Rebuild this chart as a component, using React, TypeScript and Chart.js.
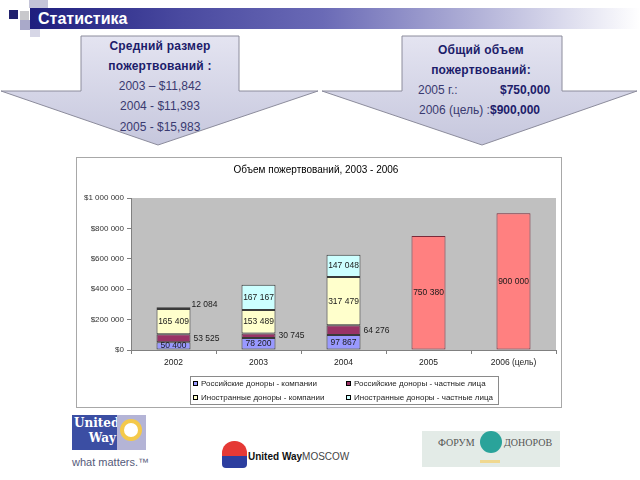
import React, { useEffect, useRef } from "react";
import { Chart, registerables } from "chart.js";

Chart.register(...registerables);

// ---------- data ----------
const categories = ["2002", "2003", "2004", "2005", "2006 (цель)"];
const seriesNames = [
  "Российские доноры - компании",
  "Российские доноры - частные лица",
  "Иностранные доноры - компании",
  "Иностранные доноры - частные лица",
];
const ruCompanies = [50400, 78200, 97867, null, null];
const ruIndividuals = [53525, 30745, 64276, null, null];
const foreignCompanies = [165409, 153489, 317479, null, null];
const foreignIndividuals = [12084, 167167, 147048, null, null];
const totals = [null, null, null, 750380, 900000];
const yMin = 0;
const yMax = 1000000;
const yStep = 200000;
const chartTitle = "Объем пожертвований, 2003 - 2006";
const slideTitle = "Статистика";
const leftArrowBold = ["Средний размер", "пожертвований :"];
const leftArrowLines = ["2003 – $11,842", "2004 - $11,393", "2005 - $15,983"];
const rightArrowBold = ["Общий объем", "пожертвований:"];

const FONT = "'Liberation Sans', Arial, sans-serif";
const fmt = (v: number) => String(v).replace(/\B(?=(\d{3})+(?!\d))/g, " ");

const seriesColors = ["#9999ff", "#993366", "#ffffcc", "#ccffff"];
const totalColor = "#ff8080";

const framePlugin = {
  id: "frame",
  beforeDraw(chart: any) {
    const { ctx, width, height, chartArea } = chart;
    ctx.save();
    ctx.fillStyle = "#ffffff";
    ctx.fillRect(0, 0, width, height);
    ctx.strokeStyle = "#a8a8a8";
    ctx.lineWidth = 1;
    ctx.strokeRect(0.5, 0.5, width - 1, height - 1);
    ctx.fillStyle = "#c0c0c0";
    ctx.fillRect(
      chartArea.left,
      chartArea.top,
      chartArea.right - chartArea.left,
      chartArea.bottom - chartArea.top
    );
    ctx.restore();
  },
};

const labelPlugin = {
  id: "valueLabels",
  afterDatasetsDraw(chart: any) {
    const ctx = chart.ctx;
    ctx.save();
    ctx.font = `8.5px ${FONT}`;
    ctx.fillStyle = "#1a1a1a";
    ctx.textBaseline = "middle";
    chart.data.datasets.forEach((ds: any, i: number) => {
      const meta = chart.getDatasetMeta(i);
      meta.data.forEach((el: any, j: number) => {
        const v = ds.data[j];
        if (v == null) return;
        const { x, y, base, width } = el.getProps(["x", "y", "base", "width"], true);
        const h = Math.abs(base - y);
        const text = fmt(v);
        if (ds.labelSide === "right") {
          ctx.textAlign = "left";
          ctx.fillText(text, x + width / 2 + 3, (y + base) / 2);
        } else if (h < 6) {
          ctx.textAlign = "left";
          ctx.fillText(text, x + width / 2 + 1, y - 3);
        } else {
          ctx.textAlign = "center";
          ctx.fillText(text, x, (y + base) / 2);
        }
      });
    });
    ctx.restore();
  },
};

const legendPlugin = {
  id: "boxLegend",
  afterDraw(chart: any) {
    const ctx = chart.ctx;
    const bx = 114, by = 219, bw = 308, bh = 28;
    ctx.save();
    ctx.fillStyle = "#ffffff";
    ctx.fillRect(bx, by, bw, bh);
    ctx.strokeStyle = "#8a8a8a";
    ctx.lineWidth = 1;
    ctx.strokeRect(bx + 0.5, by + 0.5, bw, bh);
    ctx.font = `8px ${FONT}`;
    ctx.textBaseline = "middle";
    ctx.textAlign = "left";
    chart.data.datasets.forEach((ds: any, i: number) => {
      if (!ds.inLegend) return;
      const col = i % 2;
      const row = Math.floor(i / 2);
      const mx = col === 0 ? 117 : 270;
      const cy = row === 0 ? 226.5 : 240.5;
      ctx.fillStyle = ds.backgroundColor;
      ctx.fillRect(mx, cy - 2.5, 5, 5);
      ctx.strokeStyle = "#000";
      ctx.strokeRect(mx + 0.5, cy - 2.5 + 0.5, 4, 4);
      ctx.fillStyle = "#222";
      ctx.fillText(ds.label, mx + 8, cy);
    });
    ctx.restore();
  },
};

function DonationsChart() {
  const ref = useRef<HTMLCanvasElement | null>(null);
  useEffect(() => {
    if (!ref.current) return;
    const series = [ruCompanies, ruIndividuals, foreignCompanies, foreignIndividuals];
    const datasets: any[] = series.map((data, i) => ({
      label: seriesNames[i],
      data,
      backgroundColor: seriesColors[i],
      borderColor: "#3a3a3a",
      borderWidth: 1,
      borderSkipped: false,
      stack: "s",
      barPercentage: 1,
      categoryPercentage: 0.4,
      inLegend: true,
      labelSide: i === 1 ? "right" : "inside",
    }));
    datasets.push({
      label: "Итого",
      data: totals,
      backgroundColor: totalColor,
      borderColor: "#7a2a3a",
      borderWidth: 1,
      borderSkipped: false,
      stack: "s",
      barPercentage: 1,
      categoryPercentage: 0.4,
      inLegend: false,
      labelSide: "inside",
    });
    const chart = new Chart(ref.current, {
      type: "bar",
      data: { labels: categories, datasets },
      options: {
        responsive: false,
        animation: false,
        devicePixelRatio: 1,
        layout: { padding: { left: 0, right: 6, top: 0, bottom: 0 } },
        plugins: {
          legend: { display: false },
          tooltip: { enabled: false },
          title: {
            display: true,
            text: chartTitle,
            color: "#000",
            font: { family: FONT, size: 10, weight: "normal" },
            padding: { top: 7, bottom: 22 },
          },
        },
        scales: {
          x: {
            stacked: true,
            grid: { offset: true, drawOnChartArea: false, tickLength: 4, color: "#808080" },
            border: { color: "#808080" },
            ticks: {
              color: "#222",
              font: { family: FONT, size: 8.5 },
              padding: 4,
              maxRotation: 0,
              autoSkip: false,
            },
            afterFit: (s: any) => {
              s.height = 58;
            },
          },
          y: {
            stacked: true,
            min: yMin,
            max: yMax,
            grid: { drawOnChartArea: false, tickLength: 4, color: "#808080" },
            border: { color: "#808080" },
            ticks: {
              stepSize: yStep,
              color: "#333",
              font: { family: FONT, size: 8 },
              padding: 3,
              callback: (v: any) => "$" + fmt(Number(v)),
            },
            afterFit: (s: any) => {
              s.width = 55;
            },
          },
        },
      } as any,
      plugins: [framePlugin, labelPlugin, legendPlugin],
    });
    return () => chart.destroy();
  }, []);
  return (
    <canvas
      ref={ref}
      width={486}
      height={251}
      style={{ position: "absolute", left: 76, top: 157, width: 486, height: 251 }}
    />
  );
}

const abs = (l: number, t: number, w: number, h: number, extra: any = {}) => ({
  position: "absolute" as const,
  left: l,
  top: t,
  width: w,
  height: h,
  ...extra,
});

export default function App() {
  const navy = "#1c1c6a";
  const soft = "#3a3a70";
  const lineStyle = (top: number, bold: boolean, left: number) => ({
    position: "absolute" as const,
    left,
    width: 160,
    top,
    textAlign: "center" as const,
    fontSize: 12,
    lineHeight: "20px",
    fontWeight: bold ? 700 : 400,
    color: bold ? navy : soft,
    letterSpacing: bold ? 0.2 : 0,
    whiteSpace: "nowrap" as const,
  });
  return (
    <div
      style={{
        position: "fixed",
        left: 0,
        top: 0,
        width: 640,
        height: 480,
        background: "#ffffff",
        overflow: "hidden",
        fontFamily: FONT,
      }}
    >
      {/* decorative squares */}
      <div style={abs(29, 0, 19, 8, { background: "#c4c4d8" })} />
      <div style={abs(9, 10, 9, 9, { background: "#22226e" })} />
      <div style={abs(20, 11, 9, 9, { background: "#c8c8cc" })} />
      <div style={abs(20, 20, 10, 10, { background: "#a9a9c9" })} />
      <div style={abs(30, 29, 10, 8, { background: "#d6d6e6" })} />
      {/* header band */}
      <div
        style={abs(30, 8, 610, 21, {
          background:
            "linear-gradient(to right, #1e1e7e 0%, #4a4aa0 25%, #6a6ab6 48%, #aeaed6 72%, #ffffff 100%)",
        })}
      />
      <div
        style={abs(38, 8, 200, 21, {
          color: "#ffffff",
          fontWeight: 700,
          fontSize: 16,
          lineHeight: "21px",
        })}
      >
        {slideTitle}
      </div>

      {/* arrows */}
      <svg width={640} height={150} style={{ position: "absolute", left: 0, top: 0 }}>
        <defs>
          <linearGradient id="ag" x1="0" y1="0" x2="0" y2="1">
            <stop offset="0" stopColor="#e4e4f1" />
            <stop offset="1" stopColor="#c6c7dd" />
          </linearGradient>
        </defs>
        <polygon
          points="81,36 239,36 239,91 318,91 158,145 1,91 81,91"
          fill="url(#ag)"
          stroke="#8c8c9c"
          strokeWidth={1}
        />
        <polygon
          points="402,36 562,36 562,91 637,91 482,145 322,91 402,91"
          fill="url(#ag)"
          stroke="#8c8c9c"
          strokeWidth={1}
        />
      </svg>
      <div style={lineStyle(36, true, 80)}>{leftArrowBold[0]}</div>
      <div style={lineStyle(56, true, 80)}>{leftArrowBold[1]}</div>
      <div style={lineStyle(76, false, 80)}>{leftArrowLines[0]}</div>
      <div style={lineStyle(96, false, 80)}>{leftArrowLines[1]}</div>
      <div style={lineStyle(117, false, 80)}>{leftArrowLines[2]}</div>

      <div style={lineStyle(40, true, 401)}>{rightArrowBold[0]}</div>
      <div style={lineStyle(60, true, 401)}>{rightArrowBold[1]}</div>
      <div style={{ position: "absolute", left: 418, top: 80, fontSize: 12, lineHeight: "20px", color: soft, whiteSpace: "nowrap" }}>
        2005 г.:
      </div>
      <div style={{ position: "absolute", left: 500, top: 80, fontSize: 12, lineHeight: "20px", color: navy, fontWeight: 700, whiteSpace: "nowrap" }}>
        $750,000
      </div>
      <div style={{ position: "absolute", left: 419, top: 100, fontSize: 12, lineHeight: "20px", color: soft, whiteSpace: "nowrap" }}>
        2006 (цель) :<span style={{ color: navy, fontWeight: 700 }}>$900,000</span>
      </div>

      <DonationsChart />

      {/* logos */}
      <div style={abs(72, 415, 45, 35, { background: "#3b4ea3" })} />
      <div
        style={abs(74, 416, 42, 34, {
          color: "#fff",
          fontFamily: "'DejaVu Serif', serif",
          fontWeight: 700,
          fontSize: 12,
          lineHeight: "15px",
          textAlign: "right",
        })}
      >
        United
        <br />
        Way
      </div>
      <div style={abs(117, 415, 29, 35, { background: "#b4b4d6" })} />
      <div style={abs(120, 419, 22, 22, { background: "#f4c94a", borderRadius: 11 })} />
      <div style={abs(124, 423, 14, 14, { background: "#ffffff", borderRadius: 7 })} />
      <div style={abs(72, 454, 120, 16, { color: "#555a7a", fontSize: 11, lineHeight: "16px" })}>
        what matters.™
      </div>

      <div
        style={abs(222, 441, 25, 27, {
          background: "linear-gradient(to bottom, #e53935 0%, #e53935 55%, #2c3e9f 56%, #2c3e9f 100%)",
          borderRadius: "12px 12px 4px 4px",
        })}
      />
      <div style={abs(248, 449, 120, 16, { fontSize: 10, lineHeight: "16px", color: "#111", whiteSpace: "nowrap" })}>
        <span style={{ fontWeight: 700 }}>United Way</span>
        <span style={{ color: "#444" }}>MOSCOW</span>
      </div>

      <div style={abs(422, 431, 138, 36, { background: "#e3ebe7" })} />
      <div
        style={abs(424, 435, 134, 16, {
          fontFamily: "'Liberation Serif', serif",
          fontSize: 10,
          lineHeight: "16px",
          color: "#555",
          whiteSpace: "nowrap",
        })}
      >
        <span style={{ position: "absolute", left: 14 }}>ФОРУМ</span>
        <span
          style={{
            position: "absolute",
            left: 56,
            top: -4,
            width: 22,
            height: 22,
            borderRadius: 11,
            background: "#2aa39a",
          }}
        />
        <span style={{ position: "absolute", left: 80 }}>ДОНОРОВ</span>
      </div>
      <div style={abs(480, 460, 20, 3, { background: "#f0d890" })} />
    </div>
  );
}
